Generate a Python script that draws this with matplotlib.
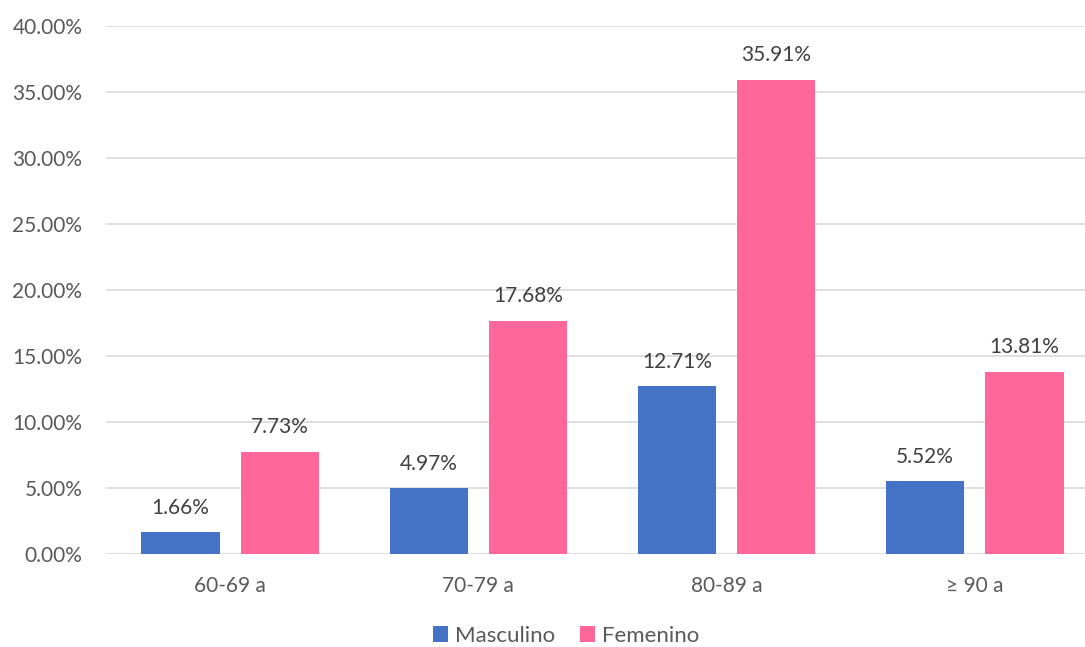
import numpy as np
import matplotlib.pyplot as plt
from matplotlib.ticker import FuncFormatter

# Data
categories = ["60-69 a", "70-79 a", "80-89 a", "≥ 90 a"]
masculino = [1.66, 4.97, 12.71, 5.52]
femenino = [7.73, 17.68, 35.91, 13.81]

blue = "#4472C4"
pink = "#FF6699"
text_gray = "#595959"

plt.rcParams['font.family'] = ['Lato', 'DejaVu Sans']

fig = plt.figure(figsize=(10.85, 6.47), dpi=100)
ax = fig.add_axes([106 / 1085, 93 / 647, 993 / 1085, 528 / 647])

x = np.arange(len(categories))
w = 0.315
off = 0.2
b1 = ax.bar(x - off, masculino, w, color=blue, label="Masculino", zorder=3)
b2 = ax.bar(x + off, femenino, w, color=pink, label="Femenino", zorder=3)

for bars, vals in [(b1, masculino), (b2, femenino)]:
    for b, v in zip(bars, vals):
        ax.text(b.get_x() + b.get_width() / 2, v + 1.1, f"{v:.2f}%",
                ha='center', va='bottom', fontsize=15, color="#404040")

ax.set_xlim(-0.5, 3.5)
ax.set_ylim(0, 40)
ax.set_yticks(np.arange(0, 41, 5))
ax.yaxis.set_major_formatter(FuncFormatter(lambda v, p: f"{v:.2f}%"))
ax.set_xticks(x)
ax.set_xticklabels(categories)
ax.tick_params(axis='both', length=0, labelsize=15, labelcolor=text_gray)
ax.tick_params(axis='x', pad=16)
ax.tick_params(axis='y', pad=17)
ax.grid(axis='y', color="#D9D9D9", linewidth=1.2, zorder=0)
for s in ax.spines.values():
    s.set_visible(False)

fig.legend(handles=[b1, b2], loc='center', bbox_to_anchor=(566 / 1085, 1 - 636 / 647),
           ncol=2, frameon=False, fontsize=16, labelcolor=text_gray,
           handlelength=0.7, handleheight=0.7, handletextpad=0.3, columnspacing=1.1)

fig.savefig("out.png", dpi=100)
